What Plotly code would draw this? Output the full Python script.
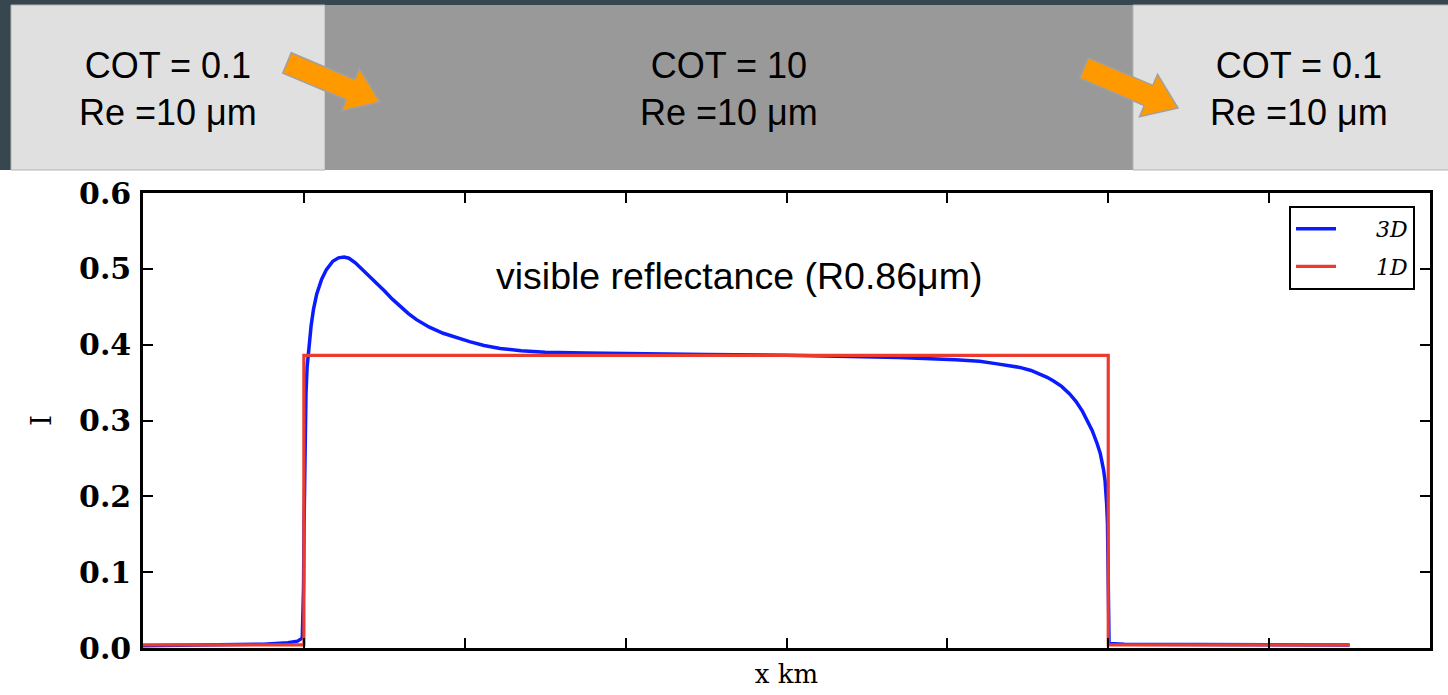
import math
import plotly.graph_objects as go

# ---- data -------------------------------------------------------------
# 3D radiative-transfer reflectance along the track
x_3d = [0.0, 0.5, 0.75, 0.9, 0.96, 0.99, 0.998, 1.001, 1.004, 1.008, 1.013,
        1.02, 1.03, 1.045, 1.06, 1.08, 1.11, 1.14, 1.18, 1.215, 1.25, 1.28,
        1.32, 1.36, 1.40, 1.45, 1.50, 1.55, 1.60, 1.65, 1.70, 1.78, 1.866,
        1.95, 2.03, 2.12, 2.22, 2.35, 2.5, 2.75, 3.0, 3.5, 4.0, 4.3, 4.7,
        5.05, 5.2, 5.3, 5.4, 5.45, 5.52, 5.57, 5.62, 5.66, 5.71, 5.76, 5.80,
        5.84, 5.87, 5.90, 5.93, 5.95, 5.97, 5.98, 5.99, 5.995, 5.998, 6.0,
        6.005, 6.1, 7.5]
i_3d = [0.003, 0.004, 0.005, 0.007, 0.009, 0.013, 0.08, 0.16, 0.23, 0.29,
        0.335, 0.37, 0.398, 0.425, 0.447, 0.467, 0.486, 0.499, 0.510, 0.5145,
        0.5155, 0.514, 0.508, 0.500, 0.492, 0.482, 0.471, 0.460, 0.450, 0.441,
        0.433, 0.423, 0.415, 0.409, 0.404, 0.399, 0.395, 0.392, 0.390, 0.389,
        0.388, 0.387, 0.386, 0.385, 0.383, 0.380, 0.378, 0.375, 0.372, 0.370,
        0.366, 0.362, 0.357, 0.352, 0.345, 0.335, 0.325, 0.312, 0.300, 0.287,
        0.270, 0.257, 0.236, 0.221, 0.19, 0.165, 0.12, 0.04, 0.006, 0.005,
        0.004]

# independent-pixel (1D) reflectance
x_1d = [0.0, 1.0, 1.0, 6.0, 6.0, 7.5]
i_1d = [0.004, 0.004, 0.386, 0.386, 0.004, 0.004]

series_names = ["<i>3D</i>", "<i>1D</i>"]
y_ticks = [0.0, 0.1, 0.2, 0.3, 0.4, 0.5, 0.6]
x_ticks = [0, 1, 2, 3, 4, 5, 6, 7, 8]

# banner panels: (label line 1, label line 2)
panel_labels = [("COT = 0.1", "Re =10 μm"), ("COT = 10", "Re =10 μm"),
                ("COT = 0.1", "Re =10 μm")]
annotation_text = "visible reflectance (R0.86μm)"

# ---- page geometry (pixels) --------------------------------------------
W, H = 1448, 695
PL, PR, PT, PB = 143, 1430, 193, 648


def px(x):
    return (x - PL) / (PR - PL)


def py(y):
    return (PB - y) / (PB - PT)


def rect(x0, y0, x1, y1, fill, line=None, lw=0):
    return dict(type="rect", xref="paper", yref="paper",
                x0=px(x0), x1=px(x1), y0=py(y1), y1=py(y0),
                fillcolor=fill, line=dict(color=line or fill, width=lw),
                layer="below")


def block_arrow(tail, tip, shaft_w=22, head_w=46, head_len=32):
    dx, dy = tip[0] - tail[0], tip[1] - tail[1]
    L = math.hypot(dx, dy)
    ux, uy = dx / L, dy / L
    nx, ny = -uy, ux
    bx, by = tip[0] - ux * head_len, tip[1] - uy * head_len
    pts = [
        (tail[0] + nx * shaft_w / 2, tail[1] + ny * shaft_w / 2),
        (bx + nx * shaft_w / 2, by + ny * shaft_w / 2),
        (bx + nx * head_w / 2, by + ny * head_w / 2),
        tip,
        (bx - nx * head_w / 2, by - ny * head_w / 2),
        (bx - nx * shaft_w / 2, by - ny * shaft_w / 2),
        (tail[0] - nx * shaft_w / 2, tail[1] - ny * shaft_w / 2),
    ]
    path = "M " + " L ".join(f"{px(a):.5f},{py(b):.5f}" for a, b in pts) + " Z"
    return dict(type="path", xref="paper", yref="paper", path=path,
                fillcolor="#ff9900", line=dict(color="#a0a0a0", width=1.5),
                layer="above")


pad = "&nbsp;" * 5
fig = go.Figure()
fig.add_trace(go.Scatter(x=x_3d, y=i_3d, mode="lines",
                         name=pad + series_names[0],
                         line=dict(color="#0a1cff", width=3.5),
                         legendgroup="a"))
fig.add_trace(go.Scatter(x=x_1d, y=i_1d, mode="lines",
                         name=pad + series_names[1],
                         line=dict(color="#ec3a2e", width=3.2),
                         legendgroup="b"))

shapes = [
    rect(0, 170, W, H, "white"),
    rect(11, 5, 325, 170, "#e0e0e0", "#b4b4b4", 1),
    rect(325, 5, 1133, 170, "#999999"),
    rect(1133, 5, W + 5, 170, "#e0e0e0", "#b4b4b4", 1),
    block_arrow((287, 63), (380, 102)),
    block_arrow((1084, 68), (1178, 108)),
]

annotations = []
for cx, (l1, l2) in zip([168, 729, 1299], panel_labels):
    annotations.append(dict(xref="paper", yref="paper", x=px(cx), y=py(89),
                            text=f"{l1}<br>{l2}", showarrow=False,
                            xanchor="center", yanchor="middle",
                            font=dict(family="Liberation Sans", size=36,
                                      color="black")))
annotations.append(dict(xref="paper", yref="paper", x=px(739), y=py(276),
                        text=annotation_text, showarrow=False,
                        xanchor="center", yanchor="middle",
                        font=dict(family="Liberation Sans", size=37.5,
                                  color="black")))

axis_common = dict(showgrid=False, zeroline=False, showline=True,
                   linecolor="black", linewidth=2.5, mirror="allticks",
                   ticks="inside", tickcolor="black", tickwidth=1.5, ticklen=10)

fig.update_layout(
    width=W, height=H,
    margin=dict(l=PL, r=W - PR, t=PT, b=H - PB),
    paper_bgcolor="#36474f", plot_bgcolor="white",
    shapes=shapes, annotations=annotations,
    showlegend=True,
    legend=dict(x=px(1289), y=py(206), xanchor="left", yanchor="top",
                bgcolor="white", bordercolor="black", borderwidth=2,
                font=dict(family="DejaVu Serif", size=22, color="black"),
                traceorder="grouped", tracegroupgap=6, itemwidth=40),
    xaxis=dict(range=[0, 8], tickvals=x_ticks, showticklabels=False,
               title=dict(text="x km", standoff=16,
                          font=dict(family="DejaVu Serif", size=26,
                                    color="black")),
               **axis_common),
    yaxis=dict(range=[0, 0.6], tickvals=y_ticks, tickformat=".1f",
               tickfont=dict(family="DejaVu Serif", size=30, color="black",
                             weight="bold"),
               ticklabelstandoff=3,
               title=dict(text="I", standoff=20,
                          font=dict(family="DejaVu Serif", size=28,
                                    color="black")),
               **axis_common),
)

fig.write_html("out.html")
